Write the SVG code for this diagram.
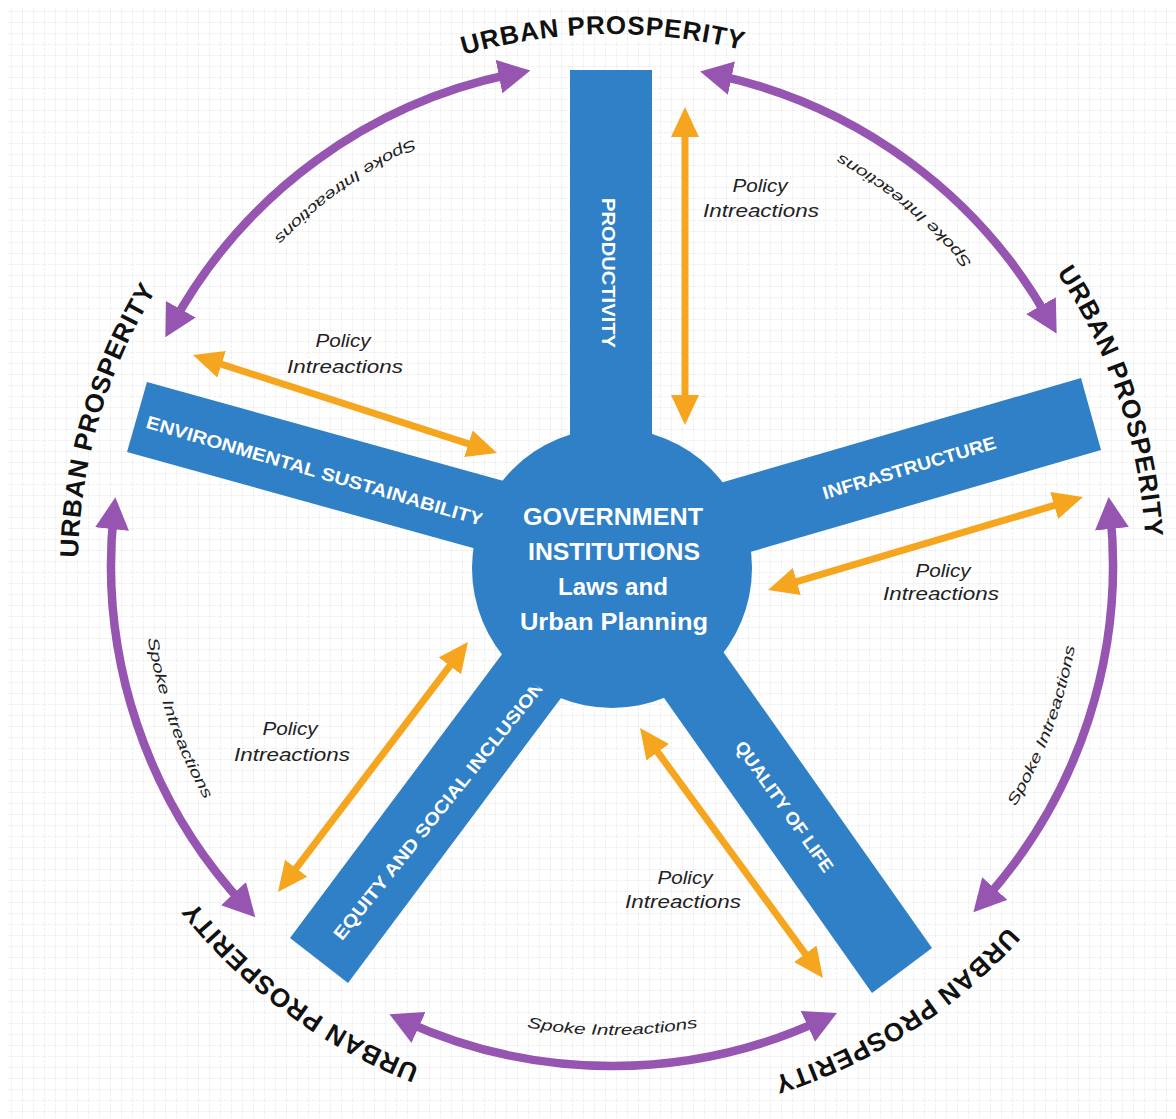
<svg xmlns="http://www.w3.org/2000/svg" width="1176" height="1119" viewBox="0 0 1176 1119">
<style>
.spoke{fill:#2F80C6}
.lbl{fill:#fff;font-family:"Liberation Sans",Arial,sans-serif;font-weight:bold;font-size:18px;text-anchor:middle}
.hub{fill:#fff;font-family:"Liberation Sans",Arial,sans-serif;font-weight:bold;font-size:24px;text-anchor:middle}
.up{fill:#111;font-family:"Liberation Sans",Arial,sans-serif;font-weight:bold;font-size:26px}
.pol{stroke:#F5A51E;stroke-width:7;fill:none}
.arc{stroke:#9555B0;stroke-width:8.5;fill:none}
.pl{fill:#222;font-family:"Liberation Sans",Arial,sans-serif;font-style:italic;font-size:18px;text-anchor:middle}
.sl{fill:#222;font-family:"Liberation Sans",Arial,sans-serif;font-style:italic;font-size:15px}
</style>
<defs>
<pattern id="grid" width="11" height="11" patternUnits="userSpaceOnUse"><path d="M0,0.5 H11 M0.5,0 V11" stroke="#f1f1f1" stroke-width="1" fill="none" stroke-dasharray="3 1"/></pattern>
<marker id="ao" viewBox="0 0 30 28" refX="15" refY="14" markerWidth="30" markerHeight="28" markerUnits="userSpaceOnUse" orient="auto-start-reverse"><path d="M0,0 L30,14 L0,28 z" fill="#F5A51E"/></marker>
<marker id="ap" viewBox="0 0 32 34" refX="16" refY="17" markerWidth="32" markerHeight="34" markerUnits="userSpaceOnUse" orient="auto-start-reverse"><path d="M0,0 L32,17 L0,34 z" fill="#9555B0"/></marker>
<path id="labelCircle" d="M612,1102 A534,534 0 0 1 612,34 A534,534 0 0 1 612,1102" fill="none"/>
<path id="spokeCircle" d="M162.5,427.6 A470,470 0 0 0 1061.5,702.4 A470,470 0 0 0 162.5,427.6" fill="none"/>
</defs>
<rect width="1176" height="1119" fill="#fff"/>
<rect x="8" y="8" width="1168" height="1111" fill="url(#grid)"/>

<g id="spoke-productivity">
<rect class="spoke" x="570" y="70" width="82" height="498"/>
<text class="lbl" transform="translate(609 273) rotate(90)" dy="7" textLength="150" lengthAdjust="spacingAndGlyphs">PRODUCTIVITY</text>
</g>
<g id="spoke-infrastructure">
<polygon class="spoke" points="1081,378 1101,450 640,584 620,512"/>
<text class="lbl" transform="translate(909 467) rotate(-16.6)" dy="7" textLength="180" lengthAdjust="spacingAndGlyphs">INFRASTRUCTURE</text>
</g>
<g id="spoke-environment">
<polygon class="spoke" points="147,382 127,452 589.5,580.4 609.5,510.4"/>
<text class="lbl" transform="translate(315 470) rotate(16.3)" dy="7" textLength="350" lengthAdjust="spacingAndGlyphs">ENVIRONMENTAL SUSTAINABILITY</text>
</g>
<g id="spoke-equity">
<polygon class="spoke" points="290,938 348,983 623,615 565,570"/>
<text class="lbl" transform="translate(438 810) rotate(-51.4)" dy="7" textLength="325" lengthAdjust="spacingAndGlyphs">EQUITY AND SOCIAL INCLUSION</text>
</g>
<g id="spoke-quality">
<polygon class="spoke" points="932,948 872,993 607,617 667,572"/>
<text class="lbl" transform="translate(785 806) rotate(54.7)" dy="7" textLength="156" lengthAdjust="spacingAndGlyphs">QUALITY OF LIFE</text>
</g>
<g id="hub">
<circle class="spoke" cx="612" cy="568" r="140"/>
<text class="hub" x="613" y="525" textLength="180" lengthAdjust="spacingAndGlyphs">GOVERNMENT</text>
<text class="hub" x="614" y="560" textLength="172" lengthAdjust="spacingAndGlyphs">INSTITUTIONS</text>
<text class="hub" x="613" y="595" textLength="110" lengthAdjust="spacingAndGlyphs">Laws and</text>
<text class="hub" x="614" y="630" textLength="188" lengthAdjust="spacingAndGlyphs">Urban Planning</text>
</g>

<g id="prosperity-top"><text class="up"><textPath href="#labelCircle" startOffset="1668" text-anchor="middle" textLength="282">URBAN PROSPERITY</textPath></text></g>
<g id="prosperity-right"><text class="up"><textPath href="#labelCircle" startOffset="2344" text-anchor="middle" textLength="282">URBAN PROSPERITY</textPath></text></g>
<g id="prosperity-bottom-right"><text class="up"><textPath href="#labelCircle" startOffset="3050" text-anchor="middle" textLength="282">URBAN PROSPERITY</textPath></text></g>
<g id="prosperity-bottom-left"><text class="up"><textPath href="#labelCircle" startOffset="338" text-anchor="middle" textLength="282">URBAN PROSPERITY</textPath></text></g>
<g id="prosperity-left"><text class="up"><textPath href="#labelCircle" startOffset="990" text-anchor="middle" textLength="282">URBAN PROSPERITY</textPath></text></g>

<g id="connectors">
<g id="spoke-interactions">
<path class="arc" marker-start="url(#ap)" marker-end="url(#ap)" d="M173.1,323.2 A501,501 0 0 1 514.7,73.5"/>
<path class="arc" marker-start="url(#ap)" marker-end="url(#ap)" d="M715.8,74.9 A501,501 0 0 1 1048.8,319.6"/>
<path class="arc" marker-start="url(#ap)" marker-end="url(#ap)" d="M1110.3,512.9 A501,501 0 0 1 984.1,900.4"/>
<path class="arc" marker-start="url(#ap)" marker-end="url(#ap)" d="M822.4,1019.7 A501,501 0 0 1 404,1020.8"/>
<path class="arc" marker-start="url(#ap)" marker-end="url(#ap)" d="M244.4,905.4 A501,501 0 0 1 113.7,513.2"/>
<text class="sl"><textPath href="#spokeCircle" startOffset="2645" text-anchor="middle" textLength="172" lengthAdjust="spacingAndGlyphs">Spoke Intreactions</textPath></text>
<text class="sl"><textPath href="#spokeCircle" startOffset="2030" text-anchor="middle" textLength="172" lengthAdjust="spacingAndGlyphs">Spoke Intreactions</textPath></text>
<text class="sl"><textPath href="#spokeCircle" startOffset="1448" text-anchor="middle" textLength="172" lengthAdjust="spacingAndGlyphs">Spoke Intreactions</textPath></text>
<text class="sl"><textPath href="#spokeCircle" startOffset="878" text-anchor="middle" textLength="172" lengthAdjust="spacingAndGlyphs">Spoke Intreactions</textPath></text>
<text class="sl"><textPath href="#spokeCircle" startOffset="299" text-anchor="middle" textLength="172" lengthAdjust="spacingAndGlyphs">Spoke Intreactions</textPath></text>
</g>
<g id="policy-interactions">
<path class="pol" marker-start="url(#ao)" marker-end="url(#ao)" d="M685,122 L685,410"/>
<path class="pol" marker-start="url(#ao)" marker-end="url(#ao)" d="M782.4,585.8 L1068.6,501.2"/>
<path class="pol" marker-start="url(#ao)" marker-end="url(#ao)" d="M207.3,359.6 L482.7,448.4"/>
<path class="pol" marker-start="url(#ao)" marker-end="url(#ao)" d="M458.9,653.9 L287.1,880.1"/>
<path class="pol" marker-start="url(#ao)" marker-end="url(#ao)" d="M648.9,740.1 L814.1,965.9"/>
<text class="pl" x="760" y="192" textLength="55" lengthAdjust="spacingAndGlyphs">Policy</text>
<text class="pl" x="761" y="217" textLength="116" lengthAdjust="spacingAndGlyphs">Intreactions</text>
<text class="pl" x="343" y="347" textLength="55" lengthAdjust="spacingAndGlyphs">Policy</text>
<text class="pl" x="345" y="373" textLength="116" lengthAdjust="spacingAndGlyphs">Intreactions</text>
<text class="pl" x="943" y="577" textLength="55" lengthAdjust="spacingAndGlyphs">Policy</text>
<text class="pl" x="941" y="600" textLength="116" lengthAdjust="spacingAndGlyphs">Intreactions</text>
<text class="pl" x="290" y="735" textLength="55" lengthAdjust="spacingAndGlyphs">Policy</text>
<text class="pl" x="292" y="761" textLength="116" lengthAdjust="spacingAndGlyphs">Intreactions</text>
<text class="pl" x="685" y="884" textLength="55" lengthAdjust="spacingAndGlyphs">Policy</text>
<text class="pl" x="683" y="908" textLength="116" lengthAdjust="spacingAndGlyphs">Intreactions</text>
</g>
</g>
</svg>
